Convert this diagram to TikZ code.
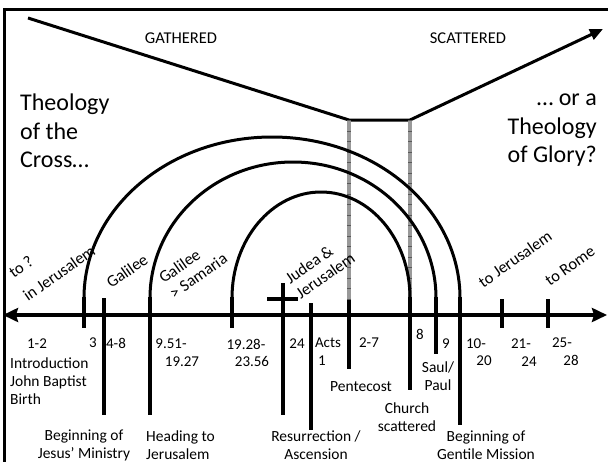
\documentclass[tikz,border=0pt]{standalone}
\usepackage{fontspec}
\setmainfont{Carlito}
\usetikzlibrary{arrows.meta}
\tikzset{
  lbl/.style={font=\fontsize{15.5}{18}\selectfont, inner sep=0pt, align=center},
  num/.style={font=\fontsize{15}{18}\selectfont, inner sep=0pt},
  big/.style={font=\fontsize{24}{28.5}\selectfont, inner sep=0pt},
  rot/.style={lbl, font=\fontsize{16.5}{18.5}\selectfont, rotate=35, align=left},
  tickline/.style={line width=4pt},
  arcline/.style={line width=3pt},
  grayline/.style={line width=4.5pt, draw=black!40},
  graymarks/.style={line width=4.5pt, draw=black!65, dash pattern=on 0.8pt off 9.7pt},
}
\begin{document}
\begin{tikzpicture}[x=1pt,y=-1pt]
\useasboundingbox (0,0) rectangle (608,461);
% frame
\draw[line width=3pt] (4.5,470) -- (4.5,9.5) -- (620,9.5);
% gathered / scattered
\coordinate (vs) at (28,18);
\coordinate (vl) at (349,120);
\coordinate (vr) at (410,120);
\coordinate (ve) at (603,29);
\draw[line width=3pt, line join=miter, -{Triangle[length=13pt,width=11pt]}] (vs) -- (vl) -- (vr) -- (ve);
\node[lbl, font=\fontsize{16.5}{18}\selectfont] (gath) at (181,38) {GATHERED};
\node[lbl, font=\fontsize{16.5}{18}\selectfont] (scat) at (468,38) {SCATTERED};
% gray lines
\coordinate (g1t) at (349,120); \coordinate (g1b) at (349,301);
\coordinate (g2t) at (410,120); \coordinate (g2b) at (410,298);
\draw[grayline] (g1t) -- (g1b);
\draw[graymarks] (g1t) -- (g1b);
\draw[grayline] (g2t) -- (g2b);
\draw[graymarks] (g2t) -- (g2b);
% arcs
\draw[arcline] (84,298) arc[start angle=180, end angle=360, x radius=188, y radius=161];
\draw[arcline] (150,298) arc[start angle=180, end angle=360, x radius=143, y radius=136];
\draw[arcline] (232,298) arc[start angle=180, end angle=360, x radius=89, y radius=106];
% axis
\coordinate (al) at (3,315);
\coordinate (ar) at (607,315);
\draw[line width=4.5pt, {Stealth[length=15pt,width=14pt,inset=2pt]}-{Stealth[length=15pt,width=14pt,inset=2pt]}] (al) -- (ar);
% ticks
\draw[tickline] (84,297) -- (84,328);
\draw[tickline] (104,298) -- (104,415);
\draw[tickline] (150,297) -- (150,415);
\draw[tickline] (232,297) -- (232,328);
\draw[tickline] (283,283) -- (283,415);
\draw[tickline] (267,299) -- (298,299);
\draw[tickline] (311,303) -- (311,430);
\draw[tickline] (349,300) -- (349,369);
\draw[tickline] (410,297) -- (410,390);
\draw[tickline] (436,297) -- (436,354);
\draw[tickline] (460,297) -- (460,425);
\draw[tickline] (502,299) -- (502,328);
\draw[tickline] (548,299) -- (548,328);
% big texts
\node[big, anchor=north west, align=left] (cross) at (20,94) {Theology\\of the\\Cross\ldots};
\node[big, anchor=north east, align=right] (glory) at (597,94) {\ldots{} or a\\Theology\\of Glory?};
% rotated labels
\node[rot] (toq) at (21,267) {to ?};
\node[rot] (injer) at (59,273) {in Jerusalem};
\node[rot] (gal) at (127,271) {Galilee};
\node[rot] (galsam) at (193,268) {Galilee\\\textgreater{} Samaria};
\node[rot] (judea) at (320,268) {Judea \&\\Jerusalem};
\node[rot] (tojer) at (515,259) {to Jerusalem};
\node[rot] (torome) at (570,266) {to Rome};
% numbers
\node[num] (n12) at (37,344) {1-2};
\node[num] (n3) at (93,343) {3};
\node[num] (n48) at (116,343) {4-8};
\node[num] (n951) at (171,344) {9.51-};
\node[num] (n1927) at (182,362) {19.27};
\node[num] (n1928) at (246,344) {19.28-};
\node[num] (n2356) at (252,361) {23.56};
\node[num] (n24) at (297,344) {24};
\node[num] (acts) at (328,343) {Acts};
\node[num] (a1) at (322,361) {1};
\node[num] (n27) at (369,343) {2-7};
\node[num] (n8) at (420,334) {8};
\node[num] (n9) at (446,344) {9};
\node[num] (n10) at (476,344) {10-};
\node[num] (n20) at (484,361) {20};
\node[num] (n21) at (521,344) {21-};
\node[num] (n24b) at (529,362) {24};
\node[num] (n25) at (562,343) {25-};
\node[num] (n28) at (571,360) {28};
% descriptions
\node[lbl, anchor=west, align=left] (intro) at (10,381) {Introduction\\John Baptist\\Birth};
\node[lbl] (begj) at (84,445) {Beginning of\\Jesus’ Ministry};
\node[lbl, anchor=west, align=left] (head) at (146,445) {Heading to\\Jerusalem};
\node[lbl] (resur) at (316,445) {Resurrection /\\Ascension};
\node[lbl] (pent) at (361,387) {Pentecost};
\node[lbl] (church) at (407,417) {Church\\scattered};
\node[lbl] (saul) at (438,376) {Saul/\\Paul};
\node[lbl] (gent) at (486,445) {Beginning of\\Gentile Mission};
\end{tikzpicture}
\end{document}
